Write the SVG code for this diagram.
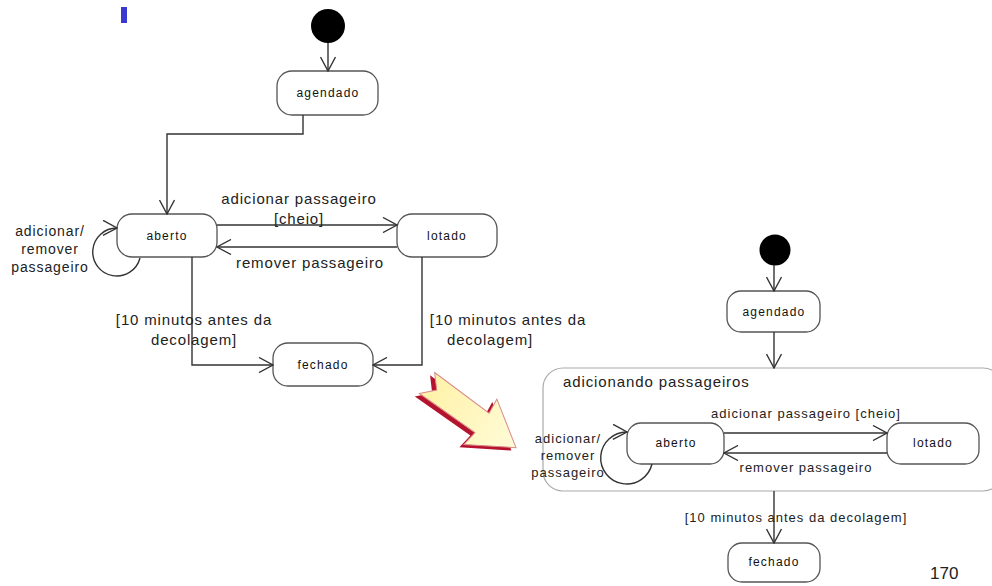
<svg xmlns="http://www.w3.org/2000/svg" width="992" height="586" viewBox="0 0 992 586">
  <style>
    .node { fill: #fff; stroke: #555; stroke-width: 1.3; }
    .box { fill: none; stroke: #aaa; stroke-width: 1.2; }
    .edge { fill: none; stroke: #333; stroke-width: 1.4; marker-end: url(#open); }
    .t { font-family: "Liberation Sans", Arial, sans-serif; fill: #222; }
    .n { font-size: 12px; letter-spacing: 1.2px; text-anchor: middle; fill: #111; }
    .big { font-size: 15px; letter-spacing: 0.85px; }
    .mid { font-size: 14px; letter-spacing: 0.9px; text-anchor: middle; }
    .sm { font-size: 13px; letter-spacing: 1px; }
    .c { text-anchor: middle; }
  </style>
  <defs>
    <marker id="open" viewBox="0 0 16 16" refX="15" refY="8" markerWidth="16" markerHeight="16" markerUnits="userSpaceOnUse" orient="auto">
      <path d="M1,0.5 L15,8 L1,15.5" fill="none" stroke="#333" stroke-width="1.4"/>
    </marker>
    <linearGradient id="arrowFill" x1="0" y1="0" x2="1" y2="0">
      <stop offset="0" stop-color="#fff2a8"/>
      <stop offset="1" stop-color="#fffbd8"/>
    </linearGradient>
  </defs>

  <rect x="121" y="7" width="6" height="16" fill="#3a3ad0"/>

  <!-- left machine: flat states -->
  <g id="L-start"><circle cx="328" cy="26" r="17" fill="#000"/></g>
  <g id="L-agendado"><rect class="node" x="277" y="71" width="101" height="44" rx="15"/><text class="t n" x="328" y="97">agendado</text></g>
  <g id="L-aberto"><rect class="node" x="117" y="214" width="100" height="43" rx="15"/><text class="t n" x="167" y="240">aberto</text></g>
  <g id="L-lotado"><rect class="node" x="397" y="214" width="100" height="43" rx="15"/><text class="t n" x="447" y="240">lotado</text></g>
  <g id="L-fechado"><rect class="node" x="273" y="343" width="100" height="43" rx="15"/><text class="t n" x="323" y="369">fechado</text></g>

  <!-- right machine: composite state -->
  <g id="R-start"><circle cx="775" cy="250" r="15.5" fill="#000"/></g>
  <g id="R-agendado"><rect class="node" x="727" y="291" width="93" height="41" rx="14"/><text class="t n" x="774" y="316">agendado</text></g>
  <g id="R-composite">
    <rect class="box" x="543" y="368" width="460" height="123" rx="20"/>
    <text class="t" x="563" y="387" font-size="15" letter-spacing="0.9">adicionando passageiros</text>
  </g>
  <g id="R-aberto"><rect class="node" x="627" y="423" width="97" height="41" rx="14"/><text class="t n" x="676" y="447">aberto</text></g>
  <g id="R-lotado"><rect class="node" x="887" y="423" width="92" height="41" rx="14"/><text class="t n" x="933" y="447">lotado</text></g>
  <g id="R-fechado"><rect class="node" x="728" y="543" width="92" height="39" rx="14"/><text class="t n" x="774" y="566">fechado</text></g>

  <g id="connectors">
    <!-- left -->
    <path class="edge" d="M328,43 L328,71"/>
    <path class="edge" d="M303,115 L303,134 L167,134 L167,214"/>
    <path class="edge" d="M217,225 L397,225"/>
    <path class="edge" d="M397,247 L217,247"/>
    <path class="edge" d="M140,258 A24,24 0 1 1 117,228"/>
    <path class="edge" d="M192,257 L192,365 L273,365"/>
    <path class="edge" d="M422,257 L422,365 L373,365"/>
    <!-- right -->
    <path class="edge" d="M774,265 L774,291"/>
    <path class="edge" d="M774,332 L774,368"/>
    <path class="edge" d="M724,433 L887,433"/>
    <path class="edge" d="M887,453 L724,453"/>
    <path class="edge" d="M652,464 A26,26 0 1 1 627,432"/>
    <path class="edge" d="M774,491 L774,543"/>
  </g>

  <g id="labels">
    <text class="t big c" x="299" y="204">adicionar passageiro</text>
    <text class="t big c" x="299" y="224">[cheio]</text>
    <text class="t big c" x="310" y="268">remover passageiro</text>
    <text class="t mid" x="50" y="236">adicionar/</text>
    <text class="t mid" x="50" y="254">remover</text>
    <text class="t mid" x="50" y="272">passageiro</text>
    <text class="t big c" x="194" y="325">[10 minutos antes da</text>
    <text class="t big c" x="194" y="345">decolagem]</text>
    <text class="t big c" x="508" y="325">[10 minutos antes da</text>
    <text class="t big c" x="490" y="345">decolagem]</text>

    <text class="t sm c" x="806" y="418">adicionar passageiro [cheio]</text>
    <text class="t sm c" x="806" y="472">remover passageiro</text>
    <text class="t sm c" x="568" y="443">adicionar/</text>
    <text class="t sm c" x="568" y="460">remover</text>
    <text class="t sm c" x="568" y="477">passageiro</text>
    <text class="t sm c" x="796" y="522" letter-spacing="1.1">[10 minutos antes da decolagem]</text>
  </g>

  <!-- block arrow between the two versions -->
  <g id="transform-arrow" transform="translate(427,383) rotate(36)">
    <path d="M0,-13 L68,-12 L66,-28 L110,0 L66,28 L68,12 L0,13 L12,0 Z" transform="translate(-2,5)" fill="#b5122e"/>
    <path d="M0,-13 L68,-12 L66,-28 L110,0 L66,28 L68,12 L0,13 L12,0 Z" fill="url(#arrowFill)" stroke="#d98a8a" stroke-width="1"/>
  </g>

  <text class="t" x="930" y="579" font-size="17">170</text>
</svg>
